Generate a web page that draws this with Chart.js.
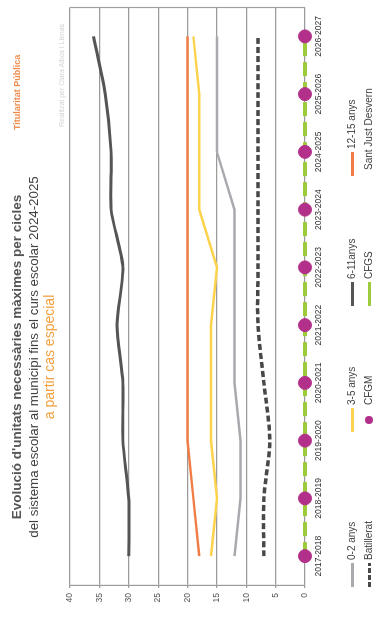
<!DOCTYPE html>
<html>
<head>
<meta charset="utf-8">
<script src="https://cdn.jsdelivr.net/npm/chart.js@4.4.1/dist/chart.umd.min.js"></script>
<style>
  html, body { margin: 0; padding: 0; background: #fff; overflow: hidden; }
  body { width: 379px; height: 622px; position: relative; font-family: "Liberation Sans", Arial, sans-serif; }
  /* the chart is drawn landscape and turned a quarter turn to the left */
  #wrap { position: absolute; left: 0; top: 0; width: 622px; height: 379px;
          transform-origin: 0 0; transform: translate(0, 622px) rotate(-90deg); }
  #wrap canvas { position: absolute; left: 0; top: 0; }
  .t { position: absolute; white-space: nowrap; line-height: 1; }
  .title { left: 0; width: 530px; text-align: center; font-size: 13.3px; color: #404040; }
  .lg { position: absolute; white-space: nowrap; font-size: 10px; color: #404040; line-height: 1; }
  .mk { position: absolute; }
</style>
</head>
<body>
<div id="wrap">
  <canvas id="chart" width="622" height="379"></canvas>
  <div class="t title" style="top:10px;font-size:13.5px;font-weight:bold;color:#555">Evolució d'unitats necessàries màximes per cicles</div>
  <div class="t title" style="top:27px">del sistema escolar al municipi fins el curs escolar 2024-2025</div>
  <div class="t title" style="top:42px;font-size:14px;color:#f4a03f">a partir cas especial</div>
  <div class="t" style="left:492px;top:13px;font-size:9px;font-weight:bold;color:#f08a48">Titularitat Pública</div>
  <div class="t" style="left:495px;top:58px;font-size:7px;color:#d2d2d2">Realitzat per Clara Albos i Llenas</div>
  <div id="legend"></div>
</div>
<script>
var categories = ['2017-2018', '2018-2019', '2019-2020', '2020-2021', '2021-2022',
                  '2022-2023', '2023-2024', '2024-2025', '2025-2026', '2026-2027'];
var valueTicks = [0, 5, 10, 15, 20, 25, 30, 35, 40];

var anys02   = [12, 11, 11, 12, 12, 12, 12, 15, 15, 15];
var anys35   = [16, 15, 16, 16, 16, 15, 18, 18, 18, 19];
var anys611  = [30, 30, 31, 31, 32, 31, 33, 33, 34, 36];
var anys1215 = [18, 19, 20, 20, 20, 20, 20, 20, 20, 20];
var batill   = [7, 7, 6, 7, 8, 8, 8, 8, 8, 8];
var cfgm     = [0, 0, 0, 0, 0, 0, 0, 0, 0, 0];
var cfgs     = [0, 0, 0, 0, 0, 0, 0, 0, 0, 0];
var santJust = [];

var datasets = [
  { label: '0-2 anys', data: anys02, borderColor: '#a9aaae', borderWidth: 2.5, tension: 0 },
  { label: '3-5 anys', data: anys35, borderColor: '#fdd34e', borderWidth: 2.5, tension: 0 },
  { label: '6-11anys', data: anys611, borderColor: '#555558', borderWidth: 3, tension: 0.25 },
  { label: '12-15 anys', data: anys1215, borderColor: '#f07d45', borderWidth: 2.5, tension: 0 },
  { label: 'Batillerat', data: batill, borderColor: '#48484a', borderWidth: 3.5, borderDash: [6, 3], tension: 0.3 },
  { label: 'CFGM', data: cfgm, showLine: false, pointRadius: 6.5, pointBackgroundColor: '#b3308a',
    pointBorderColor: '#b3308a', borderColor: '#b3308a', clip: false },
  { label: 'CFGS', data: cfgs, borderColor: '#9dcb3c', borderWidth: 4, borderDash: [14, 6], tension: 0, clip: false },
  { label: 'Sant Just Desvern', data: santJust, borderColor: 'rgba(255,255,255,0)', borderWidth: 0 }
];
datasets.forEach(function (d) {
  d.backgroundColor = d.backgroundColor || d.borderColor;
  if (d.pointRadius === undefined) d.pointRadius = 0;
  d.fill = false;
});

var edgeLine = {
  id: 'edgeLine',
  afterDraw: function (chart) {
    var a = chart.chartArea, ctx = chart.ctx;
    ctx.save();
    ctx.strokeStyle = '#a0a0a0';
    ctx.lineWidth = 1.2;
    ctx.beginPath();
    ctx.moveTo(a.right, a.top);
    ctx.lineTo(a.right, a.bottom);
    ctx.stroke();
    ctx.restore();
  }
};

var chart = new Chart(document.getElementById('chart'), {
  type: 'line',
  data: { labels: categories, datasets: datasets },
  options: {
    responsive: false,
    animation: false,
    devicePixelRatio: 1,
    layout: { padding: { left: 0, right: 1, top: 70, bottom: 52 } },
    plugins: { legend: { display: false }, title: { display: false }, tooltip: { enabled: false } },
    scales: {
      x: {
        offset: true,
        grid: { display: false, drawTicks: false, tickLength: 0 },
        border: { display: false },
        ticks: { color: '#333', font: { size: 8.5, family: 'Liberation Sans' }, padding: 9, maxRotation: 0, autoSkip: false },
        afterFit: function (s) { s.height = 22; }
      },
      y: {
        min: valueTicks[0],
        max: valueTicks[valueTicks.length - 1],
        ticks: { stepSize: valueTicks[1] - valueTicks[0], color: '#555', font: { size: 8.5, family: 'Liberation Sans' }, padding: 5 },
        grid: { color: '#9a9a9a', lineWidth: 1.2, tickLength: 3 },
        border: { color: '#9a9a9a', width: 1.2 },
        afterFit: function (s) { s.width = 37; }
      }
    }
  },
  plugins: [edgeLine]
});

// legend laid out as a 4 x 2 grid
var cols = [35, 190, 316, 446];
var rows = [347, 364];
var legend = document.getElementById('legend');
chart.data.datasets.forEach(function (d, i) {
  var x = cols[i % 4], y = rows[Math.floor(i / 4)];
  var textLeft = x + 27;
  if (d.showLine === false) {
    var dot = document.createElement('div');
    dot.className = 'mk';
    dot.style.cssText = 'left:' + (x + 8) + 'px;top:' + (y + 1) + 'px;width:8px;height:8px;border-radius:50%;background:' + d.pointBackgroundColor;
    legend.appendChild(dot);
  } else if (d.data.length) {
    var ln = document.createElement('div');
    ln.className = 'mk';
    var bg = d.borderDash && d.borderDash[0] < 10
      ? 'repeating-linear-gradient(90deg,' + d.borderColor + ' 0 5px,transparent 5px 7px)'
      : d.borderColor;
    ln.style.cssText = 'left:' + x + 'px;top:' + (y + 4) + 'px;width:24px;height:3px;background:' + bg;
    legend.appendChild(ln);
  } else {
    textLeft = x + 6;
  }
  var tx = document.createElement('div');
  tx.className = 'lg';
  tx.style.left = textLeft + 'px';
  tx.style.top = y + 'px';
  tx.textContent = d.label;
  legend.appendChild(tx);
});
</script>
</body>
</html>
